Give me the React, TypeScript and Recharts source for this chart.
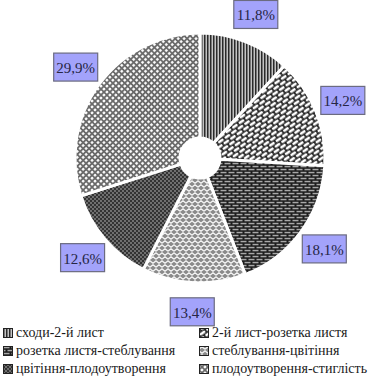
import React from 'react';
import { PieChart, Pie, Cell, Legend } from 'recharts';

const categories = [
  'сходи-2-й лист',
  '2-й лист-розетка листя',
  'розетка листя-стеблування',
  'стеблування-цвітіння',
  'цвітіння-плодоутворення',
  'плодоутворення-стиглість',
];
const shares = [11.8, 14.2, 18.1, 13.4, 12.6, 29.9];
const valueLabels = ['11,8%', '14,2%', '18,1%', '13,4%', '12,6%', '29,9%'];
const patternIds = ['pVert', 'pShingle', 'pBrick', 'pZigzag', 'pDiamond', 'pLattice'];

const data = categories.map((name, i) => ({ name, value: shares[i] }));

const RAD = Math.PI / 180;
const SERIF = "'Liberation Serif', 'DejaVu Serif', serif";

const renderLabel = (props: any) => {
  const { cx, cy, midAngle, outerRadius, index } = props;
  const r = outerRadius + 29;
  const x = cx + r * Math.cos(-midAngle * RAD);
  const y = cy + r * Math.sin(-midAngle * RAD);
  return (
    <g>
      <rect x={x - 22} y={y - 14} width={44} height={28} fill="#a3a3fb" stroke="#6b6b80" strokeWidth={1.2} />
      <text
        x={x}
        y={y + 1}
        textAnchor="middle"
        dominantBaseline="central"
        style={{ fontFamily: SERIF }}
        fontSize={15}
        fill="#262645"
      >
        {valueLabels[index]}
      </text>
    </g>
  );
};

const Patterns = () => (
  <defs>
    <pattern id="pVert" width="3" height="3" patternUnits="userSpaceOnUse">
      <rect width="3" height="3" fill="#c4c4c4" />
      <rect x="0" y="0" width="1.5" height="3" fill="#2a2a2a" />
    </pattern>
    <pattern id="pShingle" width="8" height="8" patternUnits="userSpaceOnUse" patternTransform="rotate(-35)">
      <rect width="8" height="8" fill="#1e1e1e" />
      <rect x="0.8" y="0.8" width="6.4" height="2.8" rx="1.3" fill="#ffffff" />
      <rect x="-3.2" y="4.8" width="6.4" height="2.8" rx="1.3" fill="#ffffff" />
      <rect x="4.8" y="4.8" width="6.4" height="2.8" rx="1.3" fill="#ffffff" />
    </pattern>
    <pattern id="pBrick" width="8" height="6" patternUnits="userSpaceOnUse">
      <rect width="8" height="6" fill="#1c1c1c" />
      <rect x="0.5" y="0.8" width="6" height="1.5" fill="#a8a8a8" />
      <rect x="-3.5" y="3.8" width="6" height="1.5" fill="#a8a8a8" />
      <rect x="4.5" y="3.8" width="6" height="1.5" fill="#a8a8a8" />
    </pattern>
    <pattern id="pZigzag" width="6" height="8" patternUnits="userSpaceOnUse">
      <rect width="6" height="8" fill="#8a8a8a" />
      <path d="M0 3.2 L3 0.8 L6 3.2" stroke="#f4f4f4" strokeWidth="1.3" fill="none" />
      <path d="M-3 7.2 L0 4.8 L3 7.2 L6 4.8 L9 7.2" stroke="#f4f4f4" strokeWidth="1.3" fill="none" />
    </pattern>
    <pattern id="pDiamond" width="4" height="4" patternUnits="userSpaceOnUse">
      <rect width="4" height="4" fill="#333333" />
      <circle cx="1" cy="1" r="0.9" fill="#8c8c8c" />
      <circle cx="3" cy="3" r="0.9" fill="#8c8c8c" />
    </pattern>
    <pattern id="pLattice" width="4.2" height="4.2" patternUnits="userSpaceOnUse" patternTransform="rotate(45)">
      <rect width="4.2" height="4.2" fill="#6a6a6a" />
      <rect x="0.9" y="0.9" width="2.4" height="2.4" rx="0.6" fill="#ffffff" />
    </pattern>
  </defs>
);

const renderLegend = (props: any) => {
  const payload = [...(props.payload || [])].sort(
    (a: any, b: any) => categories.indexOf(a.value) - categories.indexOf(b.value)
  );
  return (
    <div
      style={{
        display: 'grid',
        gridTemplateColumns: '196px 185px',
        rowGap: 2,
        fontFamily: SERIF,
        fontSize: 14,
        color: '#1a1a1a',
        paddingLeft: 3,
      }}
    >
      {payload.map((entry: any) => {
        const idx = categories.indexOf(entry.value);
        return (
          <div key={entry.value} style={{ display: 'flex', alignItems: 'center', height: 16, whiteSpace: 'nowrap' }}>
            <svg width={10} height={10} style={{ marginRight: 3 }}>
              <rect x={0.5} y={0.5} width={9} height={9} fill={`url(#${patternIds[idx]})`} stroke="#222" strokeWidth={1} />
            </svg>
            <span>{entry.value}</span>
          </div>
        );
      })}
    </div>
  );
};

export default function App() {
  return (
    <div style={{ position: 'absolute', left: 0, top: 0, background: '#fff' }}>
      <PieChart width={381} height={388} margin={{ top: 0, right: 0, bottom: 0, left: 0 }}>
        <Patterns />
        <Pie
          data={data}
          dataKey="value"
          nameKey="name"
          cx={200}
          cy={158}
          outerRadius={125}
          innerRadius={20}
          startAngle={90}
          endAngle={-270}
          stroke="#ffffff"
          strokeWidth={3}
          label={renderLabel}
          labelLine={false}
          isAnimationActive={false}
        >
          {data.map((_, i) => (
            <Cell key={i} fill={`url(#${patternIds[i]})`} />
          ))}
        </Pie>
        <Legend
          verticalAlign="bottom"
          content={renderLegend}
          wrapperStyle={{ top: 325, left: 0, bottom: 'auto', width: 381 }}
        />
      </PieChart>
    </div>
  );
}
